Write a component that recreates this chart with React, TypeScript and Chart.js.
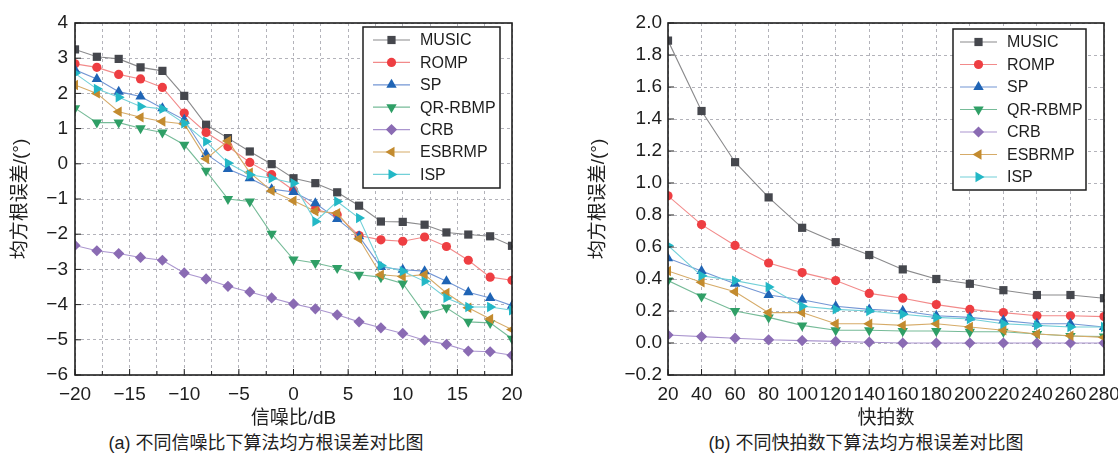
import React, { useEffect, useRef } from 'react';
import { Chart, registerables } from 'chart.js';

Chart.register(...registerables);

// ---------- data ----------
const SERIES_NAMES = ['MUSIC', 'ROMP', 'SP', 'QR-RBMP', 'CRB', 'ESBRMP', 'ISP'];

const SNR_DB = [-20, -18, -16, -14, -12, -10, -8, -6, -4, -2, 0, 2, 4, 6, 8, 10, 12, 14, 16, 18, 20];
const snrMUSIC = [3.25, 3.04, 2.98, 2.74, 2.64, 1.93, 1.11, 0.73, 0.35, -0.01, -0.41, -0.55, -0.81, -1.19, -1.64, -1.65, -1.73, -1.95, -2.01, -2.06, -2.33];
const snrROMP = [2.84, 2.74, 2.54, 2.41, 2.17, 1.44, 0.89, 0.49, 0.04, -0.31, -0.75, -1.3, -1.45, -2.04, -2.16, -2.2, -2.08, -2.35, -2.74, -3.22, -3.31];
const snrSP = [2.67, 2.41, 2.05, 1.91, 1.58, 1.25, 0.28, -0.15, -0.41, -0.72, -0.8, -1.12, -1.57, -2.06, -2.93, -3.01, -3.05, -3.34, -3.65, -3.81, -4.03];
const snrQRRBMP = [1.58, 1.17, 1.17, 1.01, 0.89, 0.54, -0.2, -1.0, -1.07, -1.99, -2.72, -2.82, -2.96, -3.15, -3.22, -3.4, -4.26, -4.09, -4.49, -4.52, -4.97];
const snrCRB = [-2.32, -2.47, -2.55, -2.66, -2.74, -3.1, -3.27, -3.48, -3.64, -3.81, -3.98, -4.12, -4.29, -4.49, -4.66, -4.82, -5.01, -5.13, -5.32, -5.34, -5.44];
const snrESBRMP = [2.24, 2.0, 1.48, 1.32, 1.2, 1.13, 0.14, 0.65, -0.25, -0.77, -1.05, -1.35, -1.4, -2.13, -3.15, -3.2, -3.15, -3.67, -4.09, -4.41, -4.71];
const snrISP = [2.57, 2.13, 1.89, 1.63, 1.56, 1.15, 0.63, 0.02, -0.31, -0.41, -0.55, -1.64, -1.07, -1.54, -2.89, -3.05, -3.34, -3.81, -4.07, -4.07, -4.16];

const SNAPSHOTS = [20, 40, 60, 80, 100, 120, 140, 160, 180, 200, 220, 240, 260, 280];
const snapMUSIC = [1.89, 1.45, 1.13, 0.91, 0.72, 0.63, 0.55, 0.46, 0.4, 0.37, 0.33, 0.3, 0.3, 0.28];
const snapROMP = [0.92, 0.74, 0.61, 0.5, 0.44, 0.39, 0.31, 0.28, 0.24, 0.21, 0.19, 0.17, 0.17, 0.165];
const snapSP = [0.53, 0.45, 0.37, 0.3, 0.27, 0.23, 0.21, 0.2, 0.17, 0.16, 0.14, 0.12, 0.12, 0.1];
const snapQRRBMP = [0.39, 0.29, 0.2, 0.16, 0.11, 0.08, 0.08, 0.075, 0.075, 0.07, 0.07, 0.056, 0.044, 0.04];
const snapCRB = [0.05, 0.04, 0.03, 0.02, 0.015, 0.01, 0.005, 0, 0, 0, 0, 0, 0, 0];
const snapESBRMP = [0.45, 0.38, 0.32, 0.19, 0.19, 0.12, 0.12, 0.11, 0.12, 0.1, 0.08, 0.056, 0.045, 0.035];
const snapISP = [0.61, 0.42, 0.39, 0.35, 0.23, 0.21, 0.2, 0.18, 0.16, 0.15, 0.12, 0.11, 0.1, 0.1];

const LEFT_X_TITLE = '信噪比/dB';
const RIGHT_X_TITLE = '快拍数';
const Y_TITLE = '均方根误差/(°)';
const LEFT_CAPTION = '(a) 不同信噪比下算法均方根误差对比图';
const RIGHT_CAPTION = '(b) 不同快拍数下算法均方根误差对比图';

// ---------- styles ----------
const MARKER_COLORS = ['#45474d', '#ee3e42', '#1f64b5', '#2f9f66', '#8a6bb3', '#c38b2f', '#23b8c6'];
const LINE_COLORS = ['#8a8a8c', '#f28a8a', '#7396d4', '#76bb98', '#ab96cf', '#d6ab68', '#72d0d8'];
const POINT_STYLES = ['rect', 'circle', 'triangle', 'triangle', 'rectRot', 'triangle', 'triangle'];
const POINT_ROTATIONS = [0, 0, 0, 180, 0, 270, 90];
const POINT_RADII = [5.8, 4.6, 6, 6, 5.6, 6, 6];

const FONT_FAMILY = '"Liberation Sans", Arial, "Noto Sans CJK SC", sans-serif';
const TEXT_COLOR = '#1e1e1e';

function fmtNum(v: number, digits: number) {
  if (Math.abs(v) < 1e-9) return digits ? (0).toFixed(digits) : '0';
  const s = Math.abs(v).toFixed(digits);
  return v < 0 ? '\u2212' + s : s;
}

function drawMarker(ctx: CanvasRenderingContext2D, style: string, rotDeg: number, x: number, y: number, r: number, color: string) {
  ctx.save();
  ctx.fillStyle = color;
  ctx.beginPath();
  if (style === 'rect') {
    const s = r * Math.SQRT1_2;
    ctx.rect(x - s, y - s, 2 * s, 2 * s);
  } else if (style === 'circle') {
    ctx.arc(x, y, r, 0, Math.PI * 2);
  } else if (style === 'rectRot') {
    ctx.moveTo(x, y - r);
    ctx.lineTo(x + r, y);
    ctx.lineTo(x, y + r);
    ctx.lineTo(x - r, y);
    ctx.closePath();
  } else {
    let rad = (rotDeg * Math.PI) / 180;
    ctx.moveTo(x + Math.sin(rad) * r, y - Math.cos(rad) * r);
    rad += (2 * Math.PI) / 3;
    ctx.lineTo(x + Math.sin(rad) * r, y - Math.cos(rad) * r);
    rad += (2 * Math.PI) / 3;
    ctx.lineTo(x + Math.sin(rad) * r, y - Math.cos(rad) * r);
    ctx.closePath();
  }
  ctx.fill();
  ctx.restore();
}

const framePlugin = {
  id: 'frameLegend',
  afterDatasetsDraw(chart: any, _args: any, opts: any) {
    const { ctx, chartArea } = chart;
    const { left, right, top, bottom } = chartArea;
    ctx.save();
    ctx.strokeStyle = '#1e1e1e';
    ctx.lineWidth = 1;
    ctx.setLineDash([]);
    // inward tick marks on bottom and left axes
    const xs = chart.scales.x;
    const ys = chart.scales.y;
    ctx.beginPath();
    xs.ticks.forEach((t: any, i: number) => {
      const px = xs.getPixelForTick(i);
      const major = t.label !== '';
      const len = major ? 6 : 4;
      ctx.moveTo(px, bottom);
      ctx.lineTo(px, bottom - len);
    });
    ys.ticks.forEach((_t: any, i: number) => {
      const py = ys.getPixelForTick(i);
      ctx.moveTo(left, py);
      ctx.lineTo(left + 6, py);
    });
    ctx.stroke();
    // frame
    ctx.lineWidth = 1.6;
    ctx.strokeRect(left, top, right - left, bottom - top);

    // legend
    const o = opts || {};
    const bx = right - o.right - o.w;
    const by = top + o.top;
    ctx.fillStyle = '#ffffff';
    ctx.fillRect(bx, by, o.w, o.h);
    ctx.lineWidth = 1.5;
    ctx.strokeStyle = '#1e1e1e';
    ctx.strokeRect(bx, by, o.w, o.h);
    ctx.font = '16px ' + FONT_FAMILY;
    ctx.textBaseline = 'middle';
    ctx.textAlign = 'left';
    SERIES_NAMES.forEach((name, i) => {
      const cy = by + o.firstRow + i * o.rowGap;
      ctx.strokeStyle = LINE_COLORS[i];
      ctx.lineWidth = 1.2;
      ctx.beginPath();
      ctx.moveTo(bx + o.lineX0, cy);
      ctx.lineTo(bx + o.lineX1, cy);
      ctx.stroke();
      drawMarker(ctx, POINT_STYLES[i], POINT_ROTATIONS[i], bx + (o.lineX0 + o.lineX1) / 2, cy, POINT_RADII[i], MARKER_COLORS[i]);
      ctx.fillStyle = TEXT_COLOR;
      ctx.fillText(name, bx + o.textX, cy + 1);
    });
    ctx.restore();
  },
};

function makeDatasets(xs: number[], series: number[][]) {
  return series.map((arr, i) => ({
    label: SERIES_NAMES[i],
    data: xs.map((x, j) => ({ x, y: arr[j] })),
    borderColor: LINE_COLORS[i],
    backgroundColor: MARKER_COLORS[i],
    borderWidth: 1.1,
    pointStyle: POINT_STYLES[i],
    pointRotation: POINT_ROTATIONS[i],
    pointRadius: POINT_RADII[i],
    pointBackgroundColor: MARKER_COLORS[i],
    pointBorderColor: MARKER_COLORS[i],
    pointBorderWidth: 0,
    tension: 0,
    order: SERIES_NAMES.length - i,
  }));
}

function buildConfig(p: any) {
  const tickFont = { family: FONT_FAMILY, size: 19 };
  const titleFont = { family: FONT_FAMILY, size: 19 };
  return {
    type: 'line',
    data: { datasets: makeDatasets(p.xs, p.series) },
    plugins: [framePlugin],
    options: {
      responsive: false,
      animation: false,
      devicePixelRatio: 1,
      layout: { padding: p.padding },
      plugins: {
        legend: { display: false },
        tooltip: { enabled: false },
        frameLegend: p.legend,
      },
      scales: {
        x: {
          type: 'linear',
          min: p.xMin,
          max: p.xMax,
          afterBuildTicks: (scale: any) => {
            const t = [];
            for (let v = p.xMin; v <= p.xMax + 1e-9; v += p.xStep) t.push({ value: Math.round(v * 1000) / 1000 });
            scale.ticks = t;
          },
          ticks: {
            autoSkip: false,
            maxRotation: 0,
            minRotation: 0,
            padding: 8,
            color: TEXT_COLOR,
            font: tickFont,
            callback: (v: number) => (Math.abs(v / p.xLabelStep - Math.round(v / p.xLabelStep)) < 1e-6 ? fmtNum(v, 0) : ''),
          },
          grid: { color: '#b3b3ba', lineWidth: 1, drawTicks: false },
          border: { display: false, dash: [3, 3] },
          title: { display: true, text: p.xTitle, color: TEXT_COLOR, font: titleFont, padding: { top: 0, bottom: 0 } },
          afterFit: (scale: any) => {
            scale.height = p.xAxisHeight;
            scale.paddingLeft = 0;
            scale.paddingRight = 0;
          },
        },
        y: {
          type: 'linear',
          min: p.yMin,
          max: p.yMax,
          afterBuildTicks: (scale: any) => {
            const t = [];
            const n = Math.round((p.yMax - p.yMin) / p.yStep);
            for (let k = 0; k <= n; k++) t.push({ value: Math.round((p.yMin + k * p.yStep) * 1000) / 1000 });
            scale.ticks = t;
          },
          ticks: {
            autoSkip: false,
            padding: p.yTickPad,
            color: TEXT_COLOR,
            font: tickFont,
            callback: (v: number) => fmtNum(v, p.yDigits),
          },
          grid: { color: '#b3b3ba', lineWidth: 1, drawTicks: false },
          border: { display: false, dash: [3, 3] },
          title: { display: true, text: Y_TITLE, color: TEXT_COLOR, font: titleFont, padding: { top: p.yTitlePad, bottom: 0 } },
          afterFit: (scale: any) => {
            scale.width = p.yAxisWidth;
            scale.paddingTop = 0;
            scale.paddingBottom = 0;
          },
        },
      },
    },
  };
}

const CANVAS_H = 430;

export default function App() {
  const leftRef = useRef<HTMLCanvasElement>(null);
  const rightRef = useRef<HTMLCanvasElement>(null);

  useEffect(() => {
    const left = new Chart(
      leftRef.current as HTMLCanvasElement,
      buildConfig({
        xs: SNR_DB,
        series: [snrMUSIC, snrROMP, snrSP, snrQRRBMP, snrCRB, snrESBRMP, snrISP],
        xMin: -20, xMax: 20, xStep: 2.5, xLabelStep: 5,
        yMin: -6, yMax: 4, yStep: 1, yDigits: 0,
        xTitle: LEFT_X_TITLE,
        padding: { left: 0, top: 23, right: 33, bottom: 0 },
        xAxisHeight: 55,
        yAxisWidth: 75,
        yTickPad: 7,
        yTitlePad: 9,
        legend: { right: 12, top: 4, w: 137, h: 161, firstRow: 13, rowGap: 22.4, lineX0: 10, lineX1: 47, textX: 57 },
      }) as any
    );
    const right = new Chart(
      rightRef.current as HTMLCanvasElement,
      buildConfig({
        xs: SNAPSHOTS,
        series: [snapMUSIC, snapROMP, snapSP, snapQRRBMP, snapCRB, snapESBRMP, snapISP],
        xMin: 20, xMax: 280, xStep: 20, xLabelStep: 20,
        yMin: -0.2, yMax: 2.0, yStep: 0.2, yDigits: 1,
        xTitle: RIGHT_X_TITLE,
        padding: { left: 0, top: 23, right: 14, bottom: 0 },
        xAxisHeight: 55,
        yAxisWidth: 108,
        yTickPad: 6,
        yTitlePad: 27,
        legend: { right: 18, top: 6, w: 133, h: 161, firstRow: 13, rowGap: 22.5, lineX0: 7, lineX1: 44, textX: 54 },
      }) as any
    );
    return () => {
      left.destroy();
      right.destroy();
    };
  }, []);

  const captionStyle: React.CSSProperties = {
    position: 'absolute',
    top: 432,
    width: 500,
    textAlign: 'center',
    fontFamily: FONT_FAMILY,
    fontSize: 18,
    lineHeight: '22px',
    color: TEXT_COLOR,
    whiteSpace: 'nowrap',
  };

  return (
    <div style={{ position: 'absolute', left: 0, top: 0, width: 1118, height: 459, background: '#ffffff', overflow: 'hidden' }}>
      <canvas ref={leftRef} width={545} height={CANVAS_H} style={{ position: 'absolute', left: 0, top: 0, width: 545, height: CANVAS_H }} />
      <canvas ref={rightRef} width={558} height={CANVAS_H} style={{ position: 'absolute', left: 560, top: 0, width: 558, height: CANVAS_H }} />
      <div style={{ ...captionStyle, left: 266 - 250 }}>{LEFT_CAPTION}</div>
      <div style={{ ...captionStyle, left: 866 - 250 }}>{RIGHT_CAPTION}</div>
    </div>
  );
}
